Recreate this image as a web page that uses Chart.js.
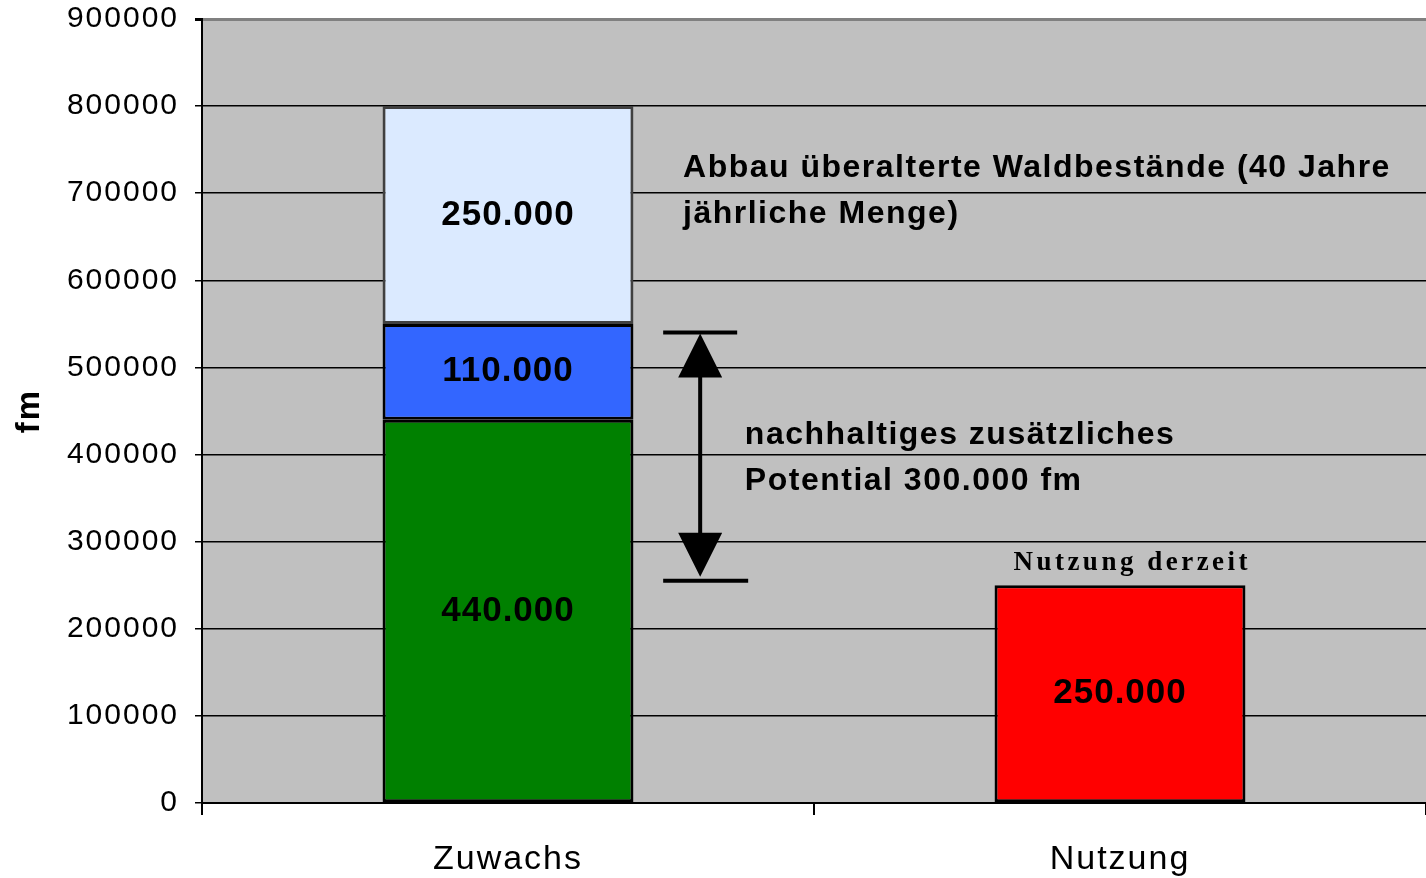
<!DOCTYPE html>
<html>
<head>
<meta charset="utf-8">
<script src="https://cdn.jsdelivr.net/npm/chart.js@4"></script>
<style>
    html, body { margin: 0; padding: 0; background: #ffffff; }
    #wrap { width: 1426px; height: 878px; }
</style>
</head>
<body>
<div id="wrap"><canvas id="chart" width="1426" height="878"></canvas></div>
<script>
const categories = ["Zuwachs", "Nutzung"];
const zuwachsValues = [440000, null];
const zusatzValues = [110000, null];
const abbauValues = [250000, null];
const nutzungValues = [null, 250000];
const yTicks = [0, 100000, 200000, 300000, 400000, 500000, 600000, 700000, 800000, 900000];
const segmentLabels = ["440.000", "110.000", "250.000", "250.000"];

// arrow range (fm) and note texts
const arrowRange = [540000, 255000];
const abbauNote = ["Abbau überalterte Waldbestände (40 Jahre", "jährliche Menge)"];
const potentialNote = ["nachhaltiges zusätzliches", "Potential 300.000 fm"];
const nutzungNote = "Nutzung derzeit";

const sans = "'Liberation Sans', Arial, sans-serif";

const plotBackground = {
    id: "plotBackground",
    beforeDraw(chart) {
        const { ctx, chartArea } = chart;
        ctx.letterSpacing = "2px";
        ctx.save();
        ctx.fillStyle = "#c0c0c0";
        ctx.fillRect(chartArea.left, chartArea.top, chartArea.right - chartArea.left, chartArea.bottom - chartArea.top);
        ctx.restore();
    }
};

const annotations = {
    id: "annotations",
    afterDatasetsDraw(chart) {
        const { ctx } = chart;
        const x = chart.scales.x;
        const y = chart.scales.y;

        // segment labels, centred inside each bar segment
        ctx.save();
        ctx.fillStyle = "#000";
        ctx.letterSpacing = "1px";
        ctx.font = "bold 35px " + sans;
        ctx.textAlign = "center";
        ctx.textBaseline = "middle";
        chart.data.datasets.forEach((ds, i) => {
            const meta = chart.getDatasetMeta(i);
            meta.data.forEach((bar, j) => {
                if (ds.data[j] == null) return;
                const mid = (bar.y + bar.base) / 2;
                ctx.fillText(segmentLabels[i], bar.x, mid);
            });
        });

        // notes
        ctx.textAlign = "left";
        ctx.letterSpacing = "1.5px";
        ctx.font = "bold 32px " + sans;
        ctx.fillText(abbauNote[0], x.getPixelForValue(0.286), y.getPixelForValue(729000));
        ctx.fillText(abbauNote[1], x.getPixelForValue(0.286), y.getPixelForValue(676000));
        ctx.fillText(potentialNote[0], x.getPixelForValue(0.387), y.getPixelForValue(422500));
        ctx.fillText(potentialNote[1], x.getPixelForValue(0.387), y.getPixelForValue(369700));

        ctx.textAlign = "center";
        ctx.letterSpacing = "3.5px";
        ctx.font = "bold 27px 'Liberation Serif', 'Times New Roman', serif";
        ctx.fillText(nutzungNote, x.getPixelForValue(1.02), y.getPixelForValue(275500));

        // double arrow
        const ax = x.getPixelForValue(0.314);
        const yTop = y.getPixelForValue(arrowRange[0]);
        const yBot = y.getPixelForValue(arrowRange[1]);
        ctx.strokeStyle = "#000";
        ctx.lineWidth = 4;
        ctx.beginPath();
        ctx.moveTo(ax - 37, yTop); ctx.lineTo(ax + 37, yTop);
        ctx.moveTo(ax - 37, yBot); ctx.lineTo(ax + 48, yBot);
        ctx.moveTo(ax, yTop + 30); ctx.lineTo(ax, yBot - 30);
        ctx.stroke();
        ctx.beginPath();
        ctx.moveTo(ax, yTop + 1); ctx.lineTo(ax - 22, yTop + 45); ctx.lineTo(ax + 22, yTop + 45);
        ctx.closePath();
        ctx.moveTo(ax, yBot - 4); ctx.lineTo(ax - 22, yBot - 48); ctx.lineTo(ax + 22, yBot - 48);
        ctx.closePath();
        ctx.fill();
        ctx.restore();
    }
};

const barStyle = {
    borderColor: "#000",
    borderWidth: 3,
    borderSkipped: false,
    categoryPercentage: 1,
    barPercentage: 0.41
};

new Chart(document.getElementById("chart"), {
    type: "bar",
    data: {
        labels: categories,
        datasets: [
            { ...barStyle, label: "Zuwachs", data: zuwachsValues, backgroundColor: "#008000" },
            { ...barStyle, label: "zusätzlich", data: zusatzValues, backgroundColor: "#3366ff" },
            { ...barStyle, label: "Abbau", data: abbauValues, backgroundColor: "#dbeaff", borderColor: "#404040" },
            { ...barStyle, label: "Nutzung", data: nutzungValues, backgroundColor: "#ff0000" }
        ]
    },
    options: {
        responsive: false,
        animation: false,
        layout: { padding: { top: 19, right: 0, left: 0, bottom: 0 } },
        plugins: {
            legend: { display: false },
            tooltip: { enabled: false }
        },
        scales: {
            x: {
                stacked: true,
                grid: {
                    drawOnChartArea: false,
                    drawTicks: true,
                    tickLength: 12,
                    color: "#000",
                    lineWidth: 2
                },
                border: { color: "#000", width: 2 },
                ticks: {
                    color: "#000",
                    font: { family: sans, size: 34 },
                    padding: 24
                },
                afterFit(scale) {
                    scale.height = 75;
                    scale.paddingLeft = 0;
                    scale.paddingRight = 0;
                }
            },
            y: {
                stacked: true,
                min: 0,
                max: 900000,
                afterBuildTicks(scale) {
                    scale.ticks = yTicks.map(v => ({ value: v }));
                },
                grid: {
                    color: ctx => ctx.tick && ctx.tick.value === 900000 ? "#808080" : "#000",
                    lineWidth: ctx => ctx.tick && ctx.tick.value === 900000 ? 3 : 1.5,
                    tickColor: "#000",
                    tickLength: 7
                },
                border: { color: "#000", width: 2 },
                title: {
                    display: true,
                    text: "fm",
                    color: "#000",
                    font: { family: sans, size: 33, weight: "bold" },
                    padding: { top: 10, bottom: 0 }
                },
                ticks: {
                    color: "#000",
                    font: { family: sans, size: 30 },
                    padding: 16,
                    callback: v => String(v)
                },
                afterFit(scale) {
                    scale.width = 202;
                    scale.paddingTop = 0;
                    scale.paddingBottom = 0;
                }
            }
        }
    },
    plugins: [plotBackground, annotations]
});
</script>
</body>
</html>
